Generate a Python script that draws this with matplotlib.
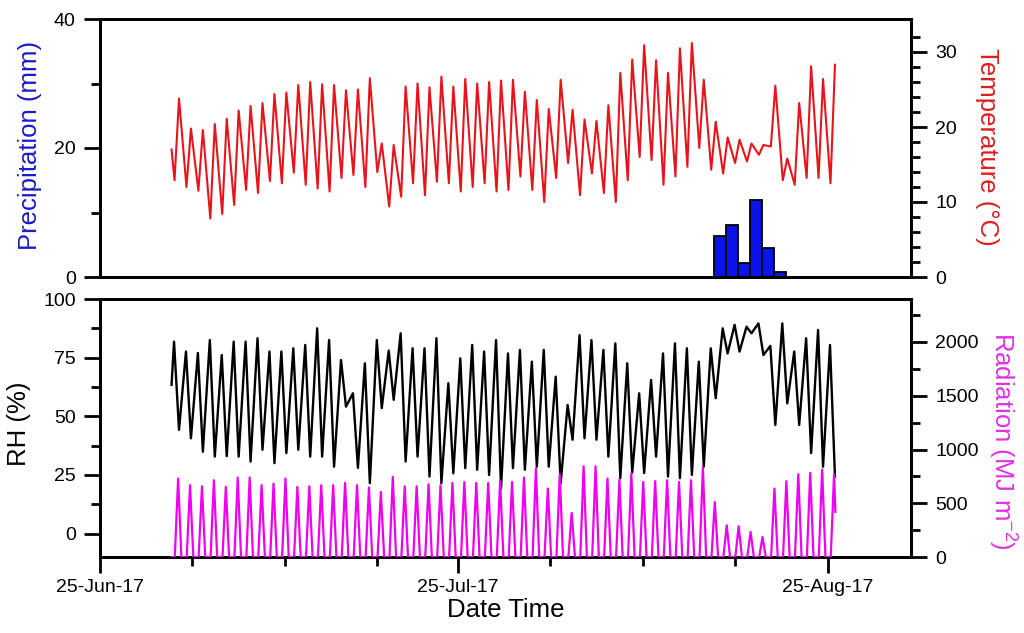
import datetime as dt
import numpy as np
import matplotlib
matplotlib.use("Agg")
import matplotlib.pyplot as plt
import matplotlib.dates as mdates
from matplotlib.ticker import FixedLocator

plt.rcParams['font.family'] = ['Liberation Sans', 'DejaVu Sans']
plt.rcParams['mathtext.fontset'] = 'custom'
plt.rcParams['mathtext.rm'] = 'Liberation Sans'
plt.rcParams['mathtext.it'] = 'Liberation Sans:italic'

# ---------------- data ----------------
first_day = dt.datetime(2017, 7, 1)          # first day of the records (1-Jul-17 .. 25-Aug-17)

# daily temperature minimum (early morning) and maximum (afternoon), degC
t_start = 17.0
t_min = [12.9, 12.0, 11.5, 7.8, 8.4, 9.6, 11.6, 11.2, 12.8, 12.5,
         13.9, 12.3, 11.8, 11.4, 13.2, 13.6, 12.0, 14.0, 9.4, 10.7,
         12.5, 10.9, 12.7, 12.5, 11.4, 12.0, 12.5, 11.4, 11.6, 13.4,
         11.6, 10.0, 13.2, 15.2, 10.9, 13.8, 11.2, 10.0, 12.9, 16.0,
         15.6, 12.3, 13.4, 14.7, 17.2, 14.3, 13.8, 15.2, 15.4, 16.3,
         17.4, 12.9, 12.3, 13.2, 13.2, 12.5]
t_max = [23.8, 19.8, 19.6, 20.4, 21.1, 22.2, 22.8, 23.2, 24.4, 24.6,
         25.6, 26.0, 25.7, 25.6, 24.9, 25.0, 26.5, 17.8, 17.6, 25.4,
         25.8, 25.3, 26.7, 25.4, 26.4, 25.8, 26.0, 26.2, 26.3, 24.7,
         23.6, 22.4, 26.3, 22.3, 21.0, 20.8, 22.9, 27.2, 29.0, 30.9,
         28.9, 27.2, 30.5, 31.2, 26.3, 20.7, 18.6, 18.3, 17.8, 17.6,
         25.5, 15.8, 23.2, 28.1, 26.4, 28.3]

# daily relative humidity maximum (night) and minimum (afternoon), %
rh_start = 63.4
rh_max = [81.8, 77.6, 77.0, 82.5, 76.1, 81.8, 81.8, 83.3, 77.6, 77.6,
          79.0, 80.4, 87.5, 82.5, 74.0, 59.8, 72.6, 82.5, 78.0, 85.4,
          79.0, 79.0, 83.3, 64.1, 74.7, 80.4, 77.6, 82.5, 76.8, 78.3,
          73.3, 78.3, 66.9, 54.8, 84.6, 82.5, 78.3, 81.1, 72.6, 59.8,
          65.5, 76.8, 81.1, 79.0, 73.3, 79.0, 87.5, 89.0, 88.2, 89.6,
          80.0, 89.6, 77.6, 83.3, 86.8, 80.4]
rh_min = [44.2, 40.6, 34.9, 32.8, 33.0, 32.8, 30.7, 35.7, 30.0, 34.3,
          35.7, 32.8, 32.8, 28.5, 54.1, 28.0, 21.5, 53.5, 57.0, 30.7,
          32.8, 24.3, 21.5, 25.7, 27.9, 27.2, 25.0, 19.3, 27.9, 27.2,
          28.5, 28.5, 21.5, 40.0, 40.6, 40.0, 32.8, 23.6, 26.0, 25.8,
          32.8, 24.3, 23.6, 25.0, 28.5, 57.7, 76.8, 77.6, 85.4, 76.1,
          46.3, 55.5, 46.3, 34.3, 28.5, 24.3]

# daily midday radiation peak (night = 0)
rad_peak = [730, 668, 658, 714, 652, 739, 739, 668, 683, 730,
            652, 658, 668, 668, 689, 668, 646, 605, 745, 658,
            658, 677, 668, 689, 698, 689, 689, 705, 698, 739,
            823, 637, 770, 410, 844, 844, 730, 720, 776, 698,
            705, 714, 698, 714, 832, 512, 295, 286, 233, 186,
            637, 705, 770, 782, 814, 770]
rad_end = 419

# daily precipitation (mm)
precip_dates = ['2017-08-16', '2017-08-17', '2017-08-18',
                '2017-08-19', '2017-08-20', '2017-08-21']
precip_mm = [6.3, 8.1, 2.1, 11.9, 4.5, 0.7]

# axis ticks
x_tick_dates = ['2017-06-25', '2017-07-25', '2017-08-25']
x_start, x_end = '2017-06-25', '2017-09-01'

# ---------------- build time series ----------------
H = lambda h: dt.timedelta(hours=h)
days = [first_day + dt.timedelta(days=i) for i in range(len(t_min))]

t_time, t_val = [first_day], [t_start]
for d, lo, hi in zip(days, t_min, t_max):
    t_time += [d + H(6), d + H(15)]
    t_val += [lo, hi]

rh_time, rh_val = [first_day], [rh_start]
for d, hi, lo in zip(days, rh_max, rh_min):
    rh_time += [d + H(5), d + H(15)]
    rh_val += [hi, lo]

rad_time, rad_val = [first_day], [0]
for i, (d, pk) in enumerate(zip(days, rad_peak)):
    if i < len(days) - 1:
        rad_time += [d + H(6.5), d + H(13.2), d + H(19.8)]
        rad_val += [0, pk, 0]
    else:
        rad_time += [d + H(6.5), d + H(13.2), d + H(15.8)]
        rad_val += [0, pk, rad_end]

tn = mdates.date2num(t_time)
rhn = mdates.date2num(rh_time)
radn = mdates.date2num(rad_time)
pn = mdates.date2num([dt.datetime.fromisoformat(s) for s in precip_dates])
xt = mdates.date2num([dt.datetime.fromisoformat(s) for s in x_tick_dates])
x0 = mdates.date2num(dt.datetime.fromisoformat(x_start))
x1 = mdates.date2num(dt.datetime.fromisoformat(x_end))

# ---------------- figure ----------------
W, Hh = 1024, 633
fig = plt.figure(figsize=(W / 100, Hh / 100), dpi=100)
left, width = 100 / W, 811 / W
ax1 = fig.add_axes([left, 1 - 277 / Hh, width, 258 / Hh])
ax3 = fig.add_axes([left, 1 - 557 / Hh, width, 258 / Hh])
ax2 = ax1.twinx()
ax4 = ax3.twinx()

RED = '#E8141B'
BLUE = '#0A14E6'
MAG = '#F000F0'

ax1.bar(pn, precip_mm, width=1.0, color=BLUE, edgecolor='black', linewidth=1.3, zorder=2)
ax2.plot(tn, t_val, color=RED, lw=1.5, zorder=3)
ax3.plot(rhn, rh_val, color='black', lw=1.7, zorder=3)
ax4.plot(radn, rad_val, color=MAG, lw=1.6, zorder=3)

for a in (ax1, ax2, ax3, ax4):
    a.set_xlim(x0, x1)
    for s in a.spines.values():
        s.set_linewidth(2.1)
    a.tick_params(which='major', direction='out', length=11.5, width=2.0, labelsize=14, pad=6)
    a.tick_params(which='minor', direction='out', length=6.3, width=2.0)

ax1.set_ylim(0, 40)
ax1.yaxis.set_major_locator(FixedLocator([0, 20, 40]))
ax1.yaxis.set_minor_locator(FixedLocator([10, 30]))
ax1.tick_params(axis='x', which='both', bottom=False, labelbottom=False)

ax2.set_ylim(0, 34.4)
ax2.yaxis.set_major_locator(FixedLocator([0, 10, 20, 30]))
ax2.yaxis.set_minor_locator(FixedLocator([2, 4, 6, 8, 12, 14, 16, 18, 22, 24, 26, 28, 32]))

ax3.set_ylim(-10, 100)
ax3.yaxis.set_major_locator(FixedLocator([0, 25, 50, 75, 100]))
ax3.yaxis.set_minor_locator(FixedLocator([12.5, 37.5, 62.5, 87.5]))

ax4.set_ylim(0, 2400)
ax4.yaxis.set_major_locator(FixedLocator([0, 500, 1000, 1500, 2000]))
ax4.yaxis.set_minor_locator(FixedLocator([250, 750, 1250, 1750, 2250]))

ax3.xaxis.set_major_locator(FixedLocator(xt))
ax3.xaxis.set_minor_locator(FixedLocator([xt[0] + 7.75, xt[0] + 15.5, xt[0] + 23.25,
                                          xt[1] + 7.75, xt[1] + 15.5, xt[1] + 23.25]))
ax3.xaxis.set_major_formatter(mdates.DateFormatter('%d-%b-%y'))
ax3.tick_params(axis='x', which='major', pad=4)

# axis labels
ax1.set_ylabel('Precipitation (mm)', fontsize=18.5, color='#1A1AC8')
ax1.yaxis.label.set(ha='center', va='center', rotation_mode='default')
ax1.yaxis.set_label_coords((30 - 100) / 811, 1 - (145 - 19) / 258)

ax2.set_ylabel('Temperature (°C)', fontsize=18.5, color='#DC1E1E', rotation=-90)
ax2.yaxis.label.set(ha='center', va='center', rotation_mode='default')
ax2.yaxis.set_label_coords((987 - 100) / 811, 1 - (147 - 19) / 258)

ax3.set_ylabel('RH (%)', fontsize=18.5, color='black')
ax3.yaxis.label.set(ha='center', va='center', rotation_mode='default')
ax3.yaxis.set_label_coords((19 - 100) / 811, 1 - (424 - 299) / 258)

ax4.set_ylabel('Radiation (MJ m$^{\\mathregular{-2}}$)', fontsize=18.5, color='#E030E0', rotation=-90)
ax4.yaxis.label.set(ha='center', va='center', rotation_mode='default')
ax4.yaxis.set_label_coords((1002 - 100) / 811, 1 - (441 - 299) / 258)

ax3.set_xlabel('Date Time', fontsize=18.5)
ax3.xaxis.label.set(va='center')
ax3.xaxis.set_label_coords(0.5, -(610 - 557) / 258)

fig.savefig('out.png', dpi=100)
